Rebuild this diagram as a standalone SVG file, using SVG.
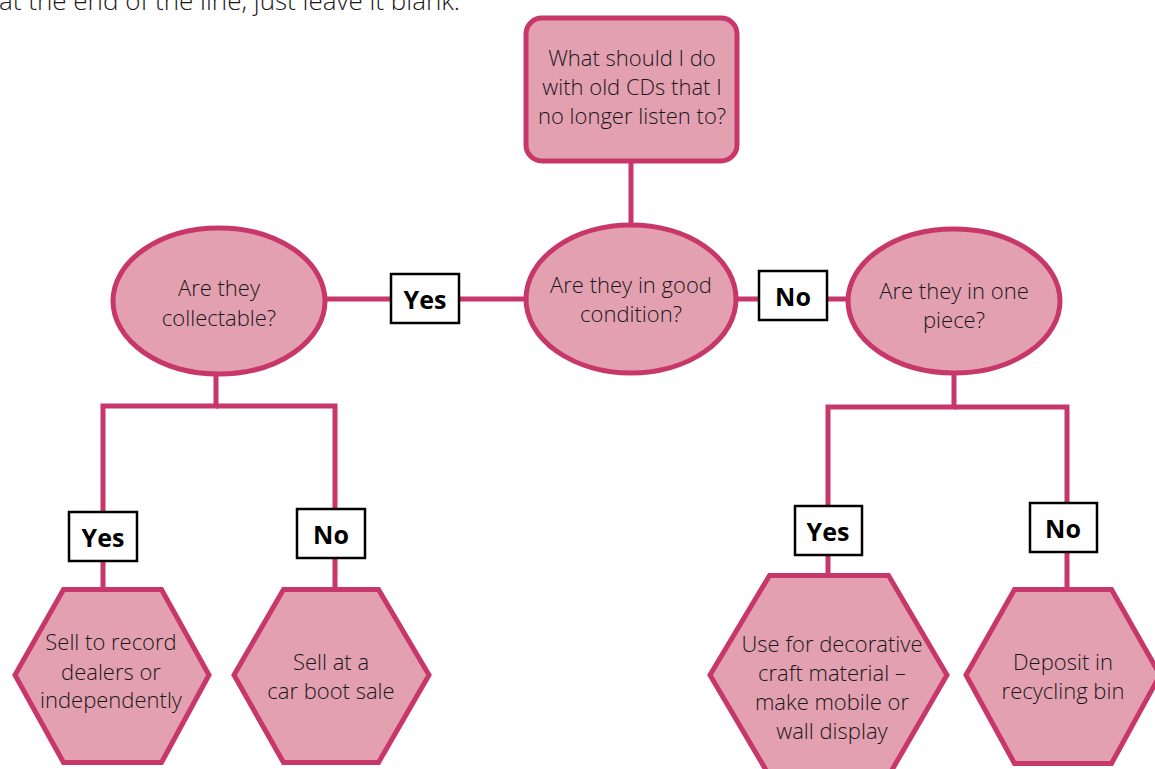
<svg xmlns="http://www.w3.org/2000/svg" width="1155" height="769" viewBox="0 0 1155 769">
  <style>
    .shape { fill: #E3A0B1; stroke: #C8376A; stroke-width: 5; stroke-linejoin: miter; }
    .link { stroke: #C8376A; stroke-width: 5; fill: none; }
    .txt { font-family: "Open Sans", "Liberation Sans", sans-serif; font-weight: 300; font-size: 22px; fill: #1A1718; text-anchor: middle; }
    .intro { font-family: "Open Sans", "Liberation Sans", sans-serif; font-weight: 300; font-size: 26px; fill: #1A1718; }
    .tag rect { fill: #FFFFFF; stroke: #000000; stroke-width: 2.5; }
    .tag text { font-family: "Open Sans", "Liberation Sans", sans-serif; font-weight: 700; font-size: 25px; fill: #000000; text-anchor: middle; }
  </style>

  <text class="intro" x="-1" y="10">at the end of the line, just leave it blank.</text>

  <!-- connectors -->
  <g id="connectors">
    <line class="link" x1="631" y1="162" x2="631" y2="226"/>
    <line class="link" x1="326" y1="299" x2="526" y2="299"/>
    <line class="link" x1="736" y1="299" x2="848" y2="299"/>
    <polyline class="link" points="216,375 216,406 103,406 103,590"/>
    <polyline class="link" points="216,406 335,406 335,590"/>
    <polyline class="link" points="954,374 954,407 828,407 828,576"/>
    <polyline class="link" points="954,407 1067,407 1067,590"/>
  </g>

  <!-- answer tags -->
  <g id="tag-yes-1" class="tag"><rect x="391" y="274" width="68" height="49"/><text x="425" y="309">Yes</text></g>
  <g id="tag-no-1" class="tag"><rect x="759" y="271" width="68" height="49"/><text x="793" y="306">No</text></g>
  <g id="tag-yes-2" class="tag"><rect x="69" y="512" width="68" height="49"/><text x="103" y="547">Yes</text></g>
  <g id="tag-no-2" class="tag"><rect x="297" y="509" width="68" height="49"/><text x="331" y="544">No</text></g>
  <g id="tag-yes-3" class="tag"><rect x="795" y="506" width="67" height="49"/><text x="828" y="541">Yes</text></g>
  <g id="tag-no-3" class="tag"><rect x="1030" y="503" width="67" height="49"/><text x="1063" y="538">No</text></g>

  <!-- question nodes -->
  <g id="start">
    <rect class="shape" x="526" y="18" width="211" height="143" rx="16"/>
    <text class="txt" x="632" y="66">What should I do</text>
    <text class="txt" x="632" y="95">with old CDs that I</text>
    <text class="txt" x="632" y="124">no longer listen to?</text>
  </g>
  <g id="q-condition">
    <ellipse class="shape" cx="631" cy="299" rx="105" ry="74"/>
    <text class="txt" x="631" y="293">Are they in good</text>
    <text class="txt" x="631" y="322">condition?</text>
  </g>
  <g id="q-collectable">
    <ellipse class="shape" cx="219" cy="301" rx="106" ry="73"/>
    <text class="txt" x="219" y="296">Are they</text>
    <text class="txt" x="219" y="326">collectable?</text>
  </g>
  <g id="q-one-piece">
    <ellipse class="shape" cx="954" cy="301" rx="106" ry="72"/>
    <text class="txt" x="954" y="299">Are they in one</text>
    <text class="txt" x="954" y="328">piece?</text>
  </g>

  <!-- outcome nodes -->
  <g id="sell-dealers">
    <polygon class="shape" points="15,675 63.5,589.5 161.5,589.5 209,675 161.5,762.5 63.5,762.5"/>
    <text class="txt" x="111" y="650">Sell to record</text>
    <text class="txt" x="111" y="680">dealers or</text>
    <text class="txt" x="111" y="708">independently</text>
  </g>
  <g id="car-boot">
    <polygon class="shape" points="234,675 283.5,589.5 378.5,589.5 429,675 378.5,762.5 283.5,762.5"/>
    <text class="txt" x="331" y="670">Sell at a</text>
    <text class="txt" x="331" y="699">car boot sale</text>
  </g>
  <g id="craft">
    <polygon class="shape" points="710,675 769.5,575.5 888.5,575.5 947,675 888.5,776 769.5,776"/>
    <text class="txt" x="832" y="652">Use for decorative</text>
    <text class="txt" x="832" y="681">craft material –</text>
    <text class="txt" x="832" y="710">make mobile or</text>
    <text class="txt" x="832" y="739">wall display</text>
  </g>
  <g id="recycle">
    <polygon class="shape" points="966,675 1014.5,589.5 1111.5,589.5 1160,675 1111.5,763.5 1014.5,763.5"/>
    <text class="txt" x="1063" y="670">Deposit in</text>
    <text class="txt" x="1063" y="699">recycling bin</text>
  </g>
</svg>
